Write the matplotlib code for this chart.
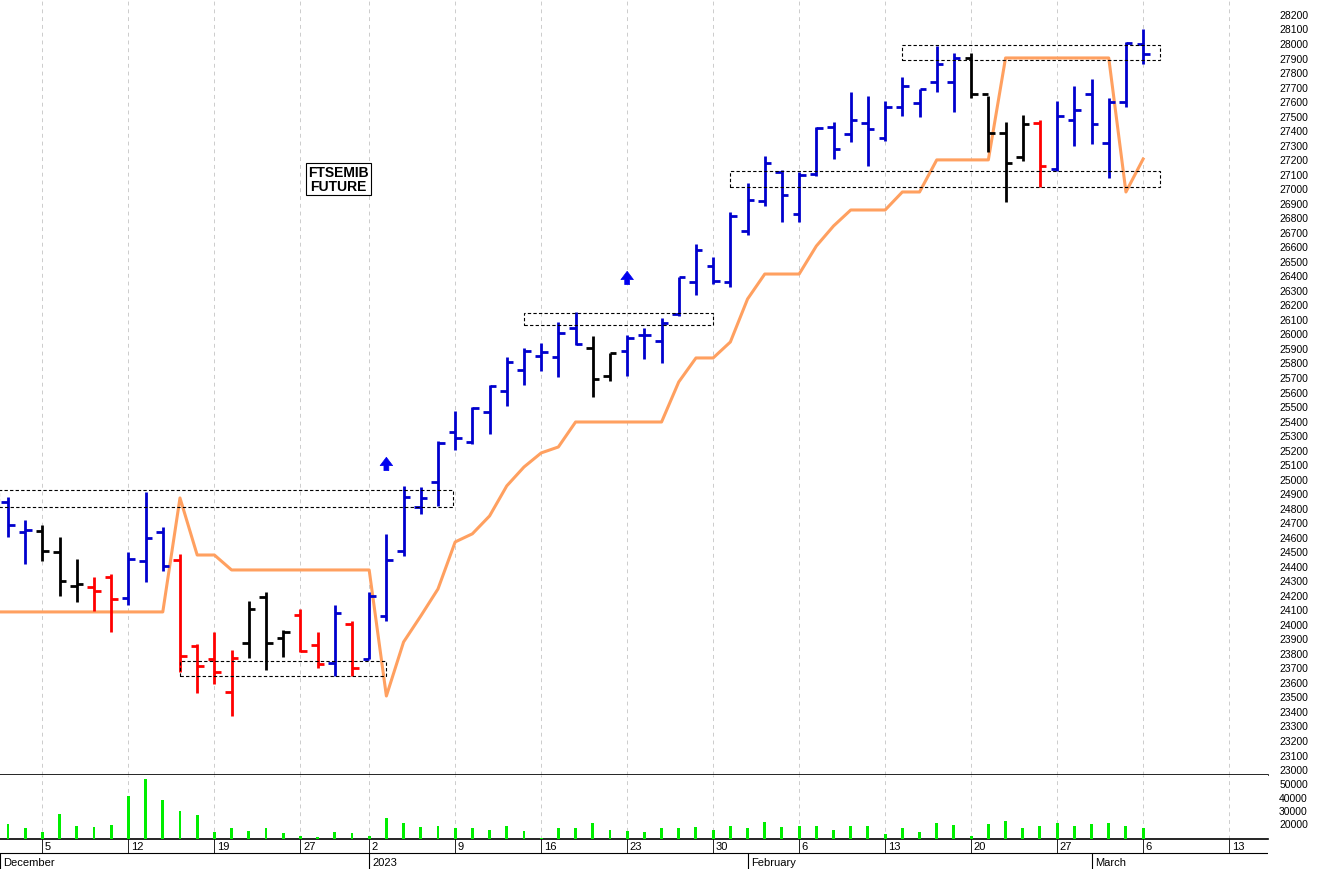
import matplotlib
matplotlib.use("Agg")
import matplotlib.pyplot as plt
import numpy as np

opens = [24839,24633,24640,24495,24261,24254,24323,24178,24433,24633,
         24440,23848,23758,23530,23868,24185,23903,24061,23854,23730,
         23999,23758,24054,24502,24805,24977,25321,25252,25459,25603,
         25748,25845,25838,26038,25900,25707,25879,25989,25948,26134,
         26354,26465,26355,26706,26912,27112,26823,27098,27422,27374,
         27449,27346,27560,27587,27732,27732,27897,27649,27380,27215,
         27449,27132,27470,27649,27312,27594,27993]
highs = [24874,24715,24681,24598,24447,24323,24343,24495,24908,24667,
         24481,23861,23944,23820,24157,24219,23958,24102,23944,24130,
         24020,24219,24619,24949,24942,25259,25466,25493,25645,25838,
         25900,25934,26079,26148,25982,25865,25989,26038,26107,26389,
         26616,26526,26836,27036,27222,27126,27112,27422,27456,27663,
         27635,27601,27766,27683,27980,27931,27931,27635,27456,27504,
         27470,27601,27704,27752,27621,28007,28097]
lows = [24598,24412,24433,24192,24150,24089,23944,24130,24288,24364,
        23668,23524,23586,23365,23765,23682,23772,23806,23696,23641,
        23641,23758,24020,24467,24757,24812,25197,25239,25307,25500,
        25645,25741,25700,25921,25562,25672,25707,25824,25796,26120,
        26265,26341,26320,26678,26878,26768,26768,27084,27201,27318,
        27153,27325,27498,27491,27663,27525,27621,27250,26905,27188,
        27009,27119,27291,27305,27071,27560,27855]
closes = [24681,24647,24502,24295,24274,24226,24171,24447,24591,24398,
          23778,23710,23668,23765,24102,23868,23944,23813,23724,24075,
          23696,24192,24440,24874,24867,25245,25280,25487,25638,25803,
          25879,25872,26003,25927,25686,25865,25969,25989,26072,26389,
          26575,26361,26809,26919,27174,26953,27091,27415,27270,27470,
          27408,27560,27704,27683,27855,27897,27649,27380,27174,27442,
          27153,27498,27539,27442,27594,28000,27924]
bar_colors = (["b"]*2 + ["k"]*3 + ["r"]*2 + ["b"]*3 + ["r"]*4 + ["k"]*3 + ["r"]*2
              + ["b"] + ["r"] + ["b"]*13 + ["k"]*2 + ["b"]*20 + ["k"]*4 + ["r"] + ["b"]*6)
stop_line = [24082]*10 + [24867,24474,24474] + [24371]*9 + [23503,23875,24054,24240,
             24564,24620,24743,24950,25080,25177,25218] + [25390]*6 + [25666,25831,25831,
             25941,26237,26409,26409,26409,26602,26740,26850,26850,26850,26974,26974,
             27195,27195,27195,27195] + [27897]*7 + [26974,27201]
volumes = [19500,16250,13750,27000,17750,17000,18750,40750,53250,37750,
           29000,26250,13750,16250,14500,16250,12500,10250,10000,13750,
           12750,10750,23750,20250,17000,17750,16500,16250,15000,18250,
           14250,8750,16250,16250,20250,15000,14000,13250,16250,16250,
           17000,15250,17750,16250,20750,17000,17750,17750,15000,17750,
           17750,12000,16250,13750,20250,18750,10250,19500,21500,16250,
           18250,20250,17750,19500,20250,17750,16250]
# zones: (start idx, end idx, low, high)
zones = [(-0.5, 25.9, 24805, 24922), (10, 22, 23641, 23744), (30, 41, 26058, 26141),
         (42, 67, 27009, 27119), (52, 67, 27883, 27987)]
arrows = [(22, 25101), (36, 26382)]
day_ticks = [2,7,12,17,21,26,31,36,41,46,51,56,61,66,71]
day_labels = ["5","12","19","27","2","9","16","23","30","6","13","20","27","6","13"]
month_ticks = [-0.47, 21, 43, 63]
month_labels = ["December", "2023", "February", "March"]
price_ticks = list(range(23000, 28201, 100))
vol_ticks = [20000, 30000, 40000, 50000]

COL = {"b": "#0000CD", "k": "black", "r": "#FF0000"}
W, H = 1317, 870
fig = plt.figure(figsize=(W/100, H/100), dpi=100)
plt.rcParams['font.family'] = ['Liberation Sans', 'DejaVu Sans']
x0, x1 = -0.465, 73.26
axw = 1268/W
ax = fig.add_axes([0, 1-776/H, axw, 776/H])
axv = fig.add_axes([0, 1-840/H, axw, 64/H])
axd = fig.add_axes([0, 0, axw, 30/H])
n = len(opens)
idx = np.arange(n)
for a in (ax, axv, axd):
    a.set_xlim(x0, x1)
    for t in day_ticks:
        if a is not axd:
            a.axvline(t, color="#cccccc", lw=0.7, ls=(0, (4, 4)), zorder=0)

ax.set_ylim(22959, 28303)
tw = 0.38
for i in idx:
    c = COL[bar_colors[i]]
    ax.vlines(i, lows[i], highs[i], color=c, lw=2.0, zorder=3)
    ax.hlines(opens[i], i-tw, i, color=c, lw=2.0, zorder=3)
    ax.hlines(closes[i], i, i+tw, color=c, lw=2.0, zorder=3)
ax.plot(np.concatenate([[x0], idx]), [stop_line[0]] + stop_line,
        color="#FFA060", lw=2.2, zorder=2)
for s, e, lo, hi in zones:
    ax.add_patch(plt.Rectangle((s, lo), e-s, hi-lo, fill=False, ec="black",
                               lw=0.8, ls=(0, (3, 2)), zorder=4))
for i, p in arrows:
    ax.annotate("", xy=(i, p+65), xytext=(i, p-65),
                arrowprops=dict(arrowstyle="simple,head_width=0.9,head_length=0.6,tail_width=0.35",
                                fc="#0000EE", ec="#0000EE", lw=0.5))
ax.text(19.2, 27064, "FTSEMIB\nFUTURE", ha="center", va="center", fontsize=10,
        fontweight="bold", linespacing=1.0,
        bbox=dict(boxstyle="square,pad=0.15", fc="white", ec="black", lw=0.8))
ax.set_xticks([])
ax.yaxis.tick_right()
ax.set_yticks(price_ticks)
ax.set_yticklabels([str(p) for p in price_ticks], fontsize=7.5)
ax.tick_params(axis="y", length=0, pad=8)
for s in ("top", "left", "right"):
    ax.spines[s].set_visible(False)
ax.spines["bottom"].set_linewidth(1.2)

axv.bar(idx, volumes, width=0.17, color="#00EE00", zorder=3)
axv.set_ylim(8250, 56250)
axv.set_xticks([])
axv.yaxis.tick_right()
axv.set_yticks(vol_ticks)
axv.set_yticklabels([str(v) for v in vol_ticks], fontsize=7.5)
axv.tick_params(axis="y", length=0, pad=8)
for s in ("left", "right"):
    axv.spines[s].set_visible(False)
axv.spines["top"].set_visible(False)
axv.spines["bottom"].set_linewidth(1.2)

axd.set_ylim(0, 30)
axd.axis("off")
axd.axhline(16.5, color="black", lw=0.8)
for t, l in zip(day_ticks, day_labels):
    axd.vlines(t, 16.5, 30, color="black", lw=0.6)
    axd.text(t+0.15, 23, l, fontsize=8, va="center", ha="left")
for t, l in zip(month_ticks, month_labels):
    axd.vlines(t, 0, 16.5, color="black", lw=0.8)
    axd.text(t+0.2, 7, l, fontsize=8, va="center", ha="left")

fig.savefig("out.png", dpi=100)
